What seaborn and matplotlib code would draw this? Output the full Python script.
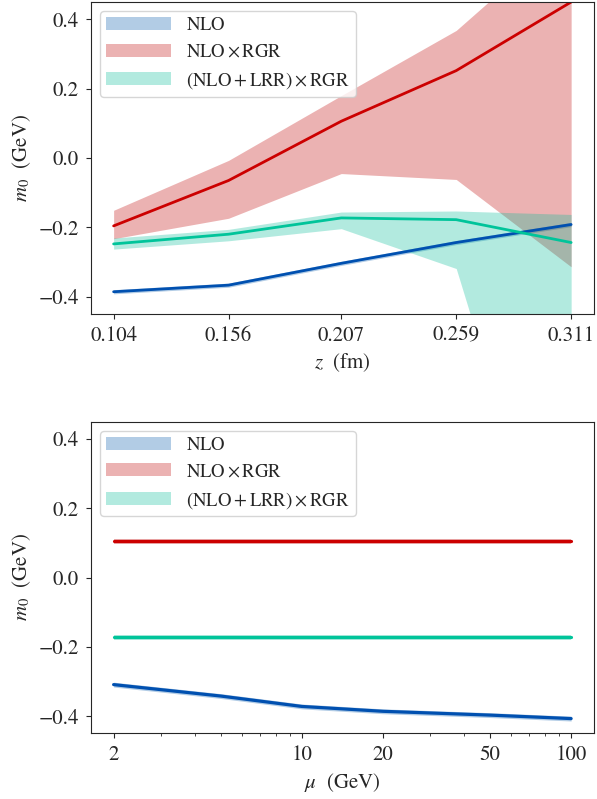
import numpy as np
import pandas as pd
import seaborn as sns
import matplotlib.pyplot as plt
from matplotlib.ticker import NullFormatter

sns.set_style("ticks")
plt.rcParams['font.family'] = ['STIXGeneral', 'DejaVu Serif']
plt.rcParams['mathtext.fontset'] = 'stix'
plt.rcParams['font.size'] = 15

# top panel: m0 vs z
z = [0.104, 0.156, 0.207, 0.259, 0.311]
nlo = [-0.386, -0.367, -0.304, -0.244, -0.192]
nlo_lo = [-0.392, -0.373, -0.310, -0.250, -0.198]
nlo_hi = [-0.380, -0.361, -0.298, -0.238, -0.186]
rgr = [-0.196, -0.065, 0.106, 0.252, 0.450]
rgr_lo = [-0.233, -0.174, -0.045, -0.062, -0.314]
rgr_hi = [-0.151, -0.007, 0.180, 0.368, 0.660]
lrr = [-0.248, -0.220, -0.173, -0.178, -0.244]
lrr_lo = [-0.263, -0.239, -0.204, -0.319, -1.400]
lrr_hi = [-0.231, -0.206, -0.156, -0.153, -0.163]

# bottom panel: m0 vs mu at z = 0.207 fm
mu = [2, 5, 10, 20, 50, 100]
nlo_mu = [-0.309, -0.342, -0.372, -0.386, -0.397, -0.407]
rgr_mu = [0.104, 0.104, 0.104, 0.104, 0.104, 0.104]
lrr_mu = [-0.173, -0.173, -0.173, -0.173, -0.173, -0.173]

labels = [r"$\mathrm{NLO}$", r"$\mathrm{NLO}\times\mathrm{RGR}$",
          r"$(\mathrm{NLO}+\mathrm{LRR})\times\mathrm{RGR}$"]
band_cols = ["#0058ac", "#c00000", "#00bc98"]
line_cols = ["#0050b0", "#cc0000", "#00c49a"]

fig, (ax1, ax2) = plt.subplots(2, 1, figsize=(5.97, 7.99), dpi=100)
fig.subplots_adjust(left=0.152, right=0.995, top=0.9975, bottom=0.082, hspace=0.345)

# top
top = [(nlo, nlo_lo, nlo_hi), (rgr, rgr_lo, rgr_hi), (lrr, lrr_lo, lrr_hi)]
for (mid, lo, hi), lab, bc, lc in zip(top, labels, band_cols, line_cols):
    ax1.fill_between(z, lo, hi, color=bc, alpha=0.3, lw=0, label=lab)
    sns.lineplot(x=z, y=mid, color=lc, lw=2, ax=ax1)
ax1.set_xticks(z)
ax1.set_xticklabels(["%.3f" % v for v in z])
ax1.set_ylim(-0.45, 0.45)
ax1.set_yticks([-0.4, -0.2, 0.0, 0.2, 0.4])
ax1.set_xlabel(r"$z$  (fm)")
ax1.set_ylabel(r"$m_0$  (GeV)")

# bottom
bot = [nlo_mu, rgr_mu, lrr_mu]
for mid, lab, bc, lc in zip(bot, labels, band_cols, line_cols):
    m = np.array(mid)
    ax2.fill_between(mu, m - 0.007, m + 0.007, color=bc, alpha=0.3, lw=0, label=lab)
    sns.lineplot(x=mu, y=mid, color=lc, lw=2.3, ax=ax2)
ax2.set_xscale("log")
ax2.set_xticks([2, 10, 20, 50, 100])
ax2.set_xticklabels(["2", "10", "20", "50", "100"])
ax2.xaxis.set_minor_formatter(NullFormatter())
ax2.set_ylim(-0.45, 0.45)
ax2.set_yticks([-0.4, -0.2, 0.0, 0.2, 0.4])
ax2.set_xlabel(r"$\mu$  (GeV)")
ax2.set_ylabel(r"$m_0$  (GeV)")

for ax in (ax1, ax2):
    ax.legend(loc="upper left", fontsize=13.5, handlelength=3.5, borderpad=0.3)
    ax.tick_params(labelsize=15, pad=5)

plt.savefig("out.png", dpi=100)
